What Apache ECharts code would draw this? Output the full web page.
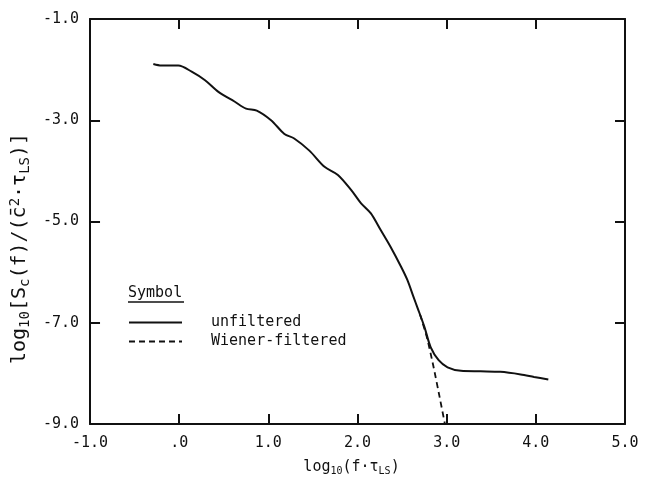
<!DOCTYPE html>
<html>
<head>
<meta charset="utf-8">
<script src="https://cdn.jsdelivr.net/npm/echarts@6/dist/echarts.min.js"></script>
<style>
  html, body { margin: 0; padding: 0; background: #fff; }
  #main { width: 651px; height: 482px; }
</style>
</head>
<body>
<div id="main"></div>
<script>
// unfiltered spectrum
var xUnf = [-0.29, -0.20, -0.01, 0.14, 0.29, 0.44, 0.62, 0.75, 0.87, 1.03, 1.18, 1.29, 1.46, 1.63, 1.78, 1.93, 2.04, 2.15, 2.26, 2.37, 2.49, 2.56, 2.63, 2.67, 2.75, 2.82, 2.91, 3.01, 3.16, 3.38, 3.60, 3.83, 3.98, 4.14];
var yUnf = [-1.89, -1.92, -1.92, -2.04, -2.21, -2.44, -2.63, -2.77, -2.81, -3.00, -3.27, -3.36, -3.60, -3.92, -4.08, -4.38, -4.64, -4.84, -5.17, -5.50, -5.90, -6.16, -6.50, -6.69, -7.08, -7.48, -7.74, -7.88, -7.95, -7.96, -7.97, -8.02, -8.07, -8.12];
// Wiener-filtered tail (same as unfiltered up to ~2.7)
var xWf = [2.70, 2.78, 2.85, 2.92, 2.98];
var yWf = [-6.83, -7.30, -7.85, -8.46, -9.00];

var seriesNames = ['unfiltered', 'Wiener-filtered'];

function pairs(xs, ys) {
  return xs.map(function (x, i) { return [x, ys[i]]; });
}

var font = '"DejaVu Sans Mono", "Liberation Mono", monospace';
var ink = '#111';

var richX = {
  n: { fontFamily: font, fontSize: 15, color: ink },
  s: { fontFamily: font, fontSize: 10, color: ink, padding: [8, 0, 0, 0] }
};
var richY = {
  n: { fontFamily: font, fontSize: 20, color: ink },
  s: { fontFamily: font, fontSize: 14, color: ink, padding: [10, 0, 0, 0] },
  p: { fontFamily: font, fontSize: 14, color: ink, padding: [0, 0, 10, 0] }
};

var myChart = echarts.init(document.getElementById('main'));

var option = {
  animation: false,
  backgroundColor: '#fff',
  grid: { left: 88, right: 26, top: 19, bottom: 58 },
  legend: {
    data: seriesNames,
    orient: 'vertical',
    left: 128,
    top: 315,
    padding: 0,
    itemWidth: 53,
    itemHeight: 14,
    itemGap: 4,
    itemStyle: { opacity: 0 },
    textStyle: { fontFamily: font, fontSize: 15, color: ink, padding: [0, 0, 0, 24] }
  },
  graphic: [
    { type: 'text', left: 128, top: 286, style: { text: 'Symbol', fontFamily: font, fontSize: 15, fill: ink } },
    { type: 'line', shape: { x1: 128, y1: 302, x2: 184, y2: 302 }, style: { stroke: ink, lineWidth: 1.5 } }
  ],
  xAxis: [{
    type: 'value',
    position: 'bottom',
    min: -1, max: 5, interval: 1,
    name: '{n|log}{s|10}{n|(f·τ}{s|LS}{n|)}',
    nameLocation: 'middle',
    nameGap: 34,
    nameTextStyle: { rich: richX, padding: [0, 12, 0, 0] },
    axisLine: { onZero: false, lineStyle: { color: ink, width: 2 } },
    axisTick: { inside: true, length: 10, lineStyle: { color: ink, width: 2 } },
    axisLabel: {
      margin: 12,
      fontFamily: font, fontSize: 15, color: ink,
      formatter: function (v) { return v === 0 ? '.0' : v.toFixed(1); }
    },
    splitLine: { show: false }
  }, {
    type: 'value',
    position: 'top',
    min: -1, max: 5, interval: 1,
    axisLine: { onZero: false, lineStyle: { color: ink, width: 2 } },
    axisTick: { inside: true, length: 10, lineStyle: { color: ink, width: 2 } },
    axisLabel: { show: false },
    splitLine: { show: false }
  }],
  yAxis: [{
    type: 'value',
    position: 'left',
    min: -9, max: -1, interval: 2,
    name: '{n|log}{s|10}{n|[S}{s|c}{n|(f)/(c̄}{p|2}{n|·τ}{s|LS}{n|)]}',
    nameLocation: 'middle',
    nameGap: 57,
    nameTextStyle: { rich: richY, padding: [0, 54, 0, 0] },
    axisLine: { onZero: false, lineStyle: { color: ink, width: 2 } },
    axisTick: { inside: true, length: 10, lineStyle: { color: ink, width: 2 } },
    axisLabel: {
      margin: 11,
      fontFamily: font, fontSize: 15, color: ink,
      formatter: function (v) { return v.toFixed(1); }
    },
    splitLine: { show: false }
  }, {
    type: 'value',
    position: 'right',
    min: -9, max: -1, interval: 2,
    axisLine: { onZero: false, lineStyle: { color: ink, width: 2 } },
    axisTick: { inside: true, length: 10, lineStyle: { color: ink, width: 2 } },
    axisLabel: { show: false },
    splitLine: { show: false }
  }],
  series: [{
    name: seriesNames[1],
    type: 'line',
    data: pairs(xWf, yWf),
    symbol: 'none',
    smooth: 0.2,
    lineStyle: { color: ink, width: 1.8, type: [6, 4] },
    itemStyle: { color: ink }
  }, {
    name: seriesNames[0],
    type: 'line',
    data: pairs(xUnf, yUnf),
    symbol: 'none',
    smooth: 0.3,
    lineStyle: { color: ink, width: 2 },
    itemStyle: { color: ink }
  }]
};

myChart.setOption(option);
</script>
</body>
</html>
